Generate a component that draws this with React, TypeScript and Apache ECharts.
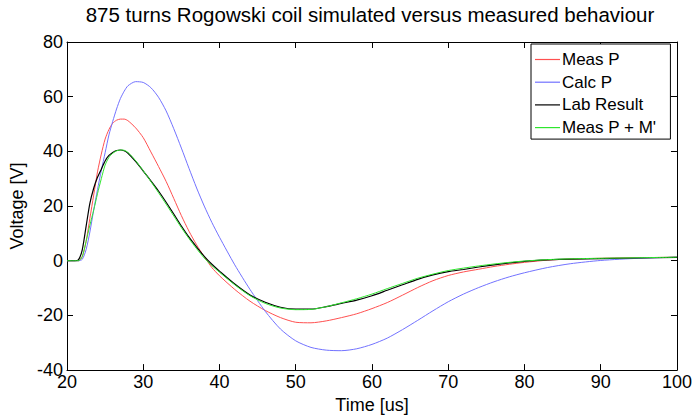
import React, { useEffect, useRef } from "react";
import * as echarts from "echarts";

const titleText = "875 turns Rogowski coil simulated versus measured behaviour";
const xAxisName = "Time [us]";
const yAxisName = "Voltage [V]";
const seriesNames = ["Meas P", "Calc P", "Lab Result", "Meas P + M'"];

const timeUs = [
  20, 21, 21.5, 22, 22.5, 23, 23.5, 24, 24.5, 25, 25.5, 26, 26.5, 27, 27.5, 28, 29, 30, 31, 32,
  33, 34, 35, 36, 37, 38, 39, 40, 42, 44, 46, 48, 50, 52, 54, 56, 58, 60, 62, 64, 66, 68, 70,
  72, 74, 76, 78, 80, 83, 86, 90, 95, 100,
];

const measP = [
  0, 0, 0, 1.5, 7, 15.5, 24, 32.5, 39, 44.5, 48, 50.3, 51.4, 51.8, 51.8, 51.2, 48.6, 45, 39.8,
  34.5, 29, 22.8, 16.5, 10.8, 5.8, 1.5, -2.5, -5.5, -10.5, -14.8, -18.2, -20.8, -22.5, -22.7,
  -22, -20.8, -19.4, -17.5, -15.3, -12.6, -9.8, -7.3, -5.4, -4.1, -3.1, -2.1, -1.3, -0.6, 0.2,
  0.6, 0.9, 1.1, 1.3,
];

const calcP = [
  0, 0, 0, 0.5, 4, 10.5, 18.5, 26, 33, 39.5, 46, 51, 55.5, 59.3, 62, 64, 65.5, 65.2, 63.3, 59.8,
  54.8, 48.3, 41.2, 33.8, 26.6, 20, 14, 8.6, -1.5, -10.5, -18.5, -25, -29.3, -31.7, -32.7, -32.9,
  -32.2, -30.6, -28.3, -25.2, -21.8, -18.3, -15, -12.2, -9.8, -7.7, -5.9, -4.4, -2.5, -1.1, 0.1,
  0.9, 1.3,
];

const labResult = [
  0, 0, 0.3, 4, 12.5, 21, 26.5, 30.5, 33.5, 36.5, 38.5, 39.6, 40.3, 40.5, 40.2, 39.3, 36.3, 32.8,
  29.2, 25.5, 21.4, 17.1, 12.7, 8.6, 5, 1.6, -1.3, -3.8, -8.5, -12.5, -15.2, -17, -17.7, -17.7,
  -16.8, -15.6, -14.4, -12.8, -10.8, -8.8, -6.8, -5.2, -4, -3.2, -2.3, -1.5, -0.8, -0.2, 0.3,
  0.6, 0.8, 1.0, 1.2,
];

const measPM = [
  0, 0, 0, 1.5, 7, 13, 18.5, 24.5, 30, 35, 37.8, 39.3, 40.2, 40.5, 40.4, 39.6, 36.6, 32.9, 29,
  24.9, 20.7, 16.4, 12.1, 8.1, 4.4, 1, -1.8, -4.2, -8.8, -12.8, -15.6, -17.3, -17.9, -17.8, -16.8,
  -15.4, -13.9, -12.2, -10.2, -8.3, -6.4, -4.9, -3.6, -2.7, -1.9, -1.2, -0.6, -0.1, 0.4, 0.7,
  0.9, 1.1, 1.3,
];

const seriesValues = [measP, calcP, labResult, measPM];
const seriesColors = ["#ff5050", "#7272ff", "#000000", "#2ee62e"];

const FONT = "'Liberation Sans', Arial, Helvetica, sans-serif";

export default function App() {
  const ref = useRef<HTMLDivElement>(null);

  useEffect(() => {
    if (!ref.current) return;
    const chart = echarts.init(ref.current, null, { renderer: "svg" });

    const tickStyle = { show: true, inside: true, length: 6, lineStyle: { color: "#000", width: 1 } };
    const lineAxis = { show: true, onZero: false, lineStyle: { color: "#000", width: 1 } };

    const option = {
      animation: false,
      backgroundColor: "#fff",
      textStyle: { fontFamily: FONT },
      title: {
        text: titleText,
        left: 370,
        textAlign: "center",
        top: 4,
        padding: 0,
        textStyle: { fontSize: 20.5, fontWeight: "normal", color: "#000", fontFamily: FONT },
      },
      grid: { left: 67, top: 42, width: 610, height: 330, containLabel: false },
      legend: {
        orient: "vertical",
        left: 531,
        top: 44,
        padding: [7, 14, 3, 4],
        itemGap: 5.7,
        itemWidth: 25,
        itemHeight: 1.2,
        icon: "rect",
        backgroundColor: "#fff",
        borderColor: "#000",
        borderWidth: 1,
        borderRadius: 0,
        textStyle: { fontSize: 17, color: "#000", fontFamily: FONT, padding: [0, 0, 0, -3] },
        data: seriesNames,
      },
      xAxis: [
        {
          type: "value",
          min: 20,
          max: 100,
          interval: 10,
          position: "bottom",
          name: xAxisName,
          nameLocation: "middle",
          nameGap: 22,
          nameTextStyle: { fontSize: 18, color: "#000", fontFamily: FONT },
          axisLine: lineAxis,
          axisTick: tickStyle,
          axisLabel: { fontSize: 18, color: "#000", margin: 3, fontFamily: FONT },
          splitLine: { show: false },
        },
        {
          type: "value",
          min: 20,
          max: 100,
          interval: 10,
          position: "top",
          axisLine: lineAxis,
          axisTick: tickStyle,
          axisLabel: { show: false },
          splitLine: { show: false },
        },
      ],
      yAxis: [
        {
          type: "value",
          min: -40,
          max: 80,
          interval: 20,
          position: "left",
          name: yAxisName,
          nameLocation: "middle",
          nameGap: 39,
          nameTextStyle: { fontSize: 18, color: "#000", fontFamily: FONT },
          axisLine: lineAxis,
          axisTick: tickStyle,
          axisLabel: { fontSize: 18, color: "#000", margin: 4, fontFamily: FONT },
          splitLine: { show: false },
        },
        {
          type: "value",
          min: -40,
          max: 80,
          interval: 20,
          position: "right",
          axisLine: lineAxis,
          axisTick: tickStyle,
          axisLabel: { show: false },
          splitLine: { show: false },
        },
      ],
      series: seriesNames.map((name, i) => ({
        name,
        type: "line",
        xAxisIndex: 0,
        yAxisIndex: 0,
        data: timeUs.map((t, k) => [t, seriesValues[i][k]]),
        showSymbol: false,
        symbol: "none",
        smooth: 0.25,
        lineStyle: { color: seriesColors[i], width: i === 2 ? 1.2 : 1 },
        itemStyle: { color: seriesColors[i] },
        z: 2 + i,
      })),
    };

    chart.setOption(option as any);
    return () => chart.dispose();
  }, []);

  return <div ref={ref} style={{ width: 695, height: 419, position: "absolute", left: 0, top: 0 }} />;
}
